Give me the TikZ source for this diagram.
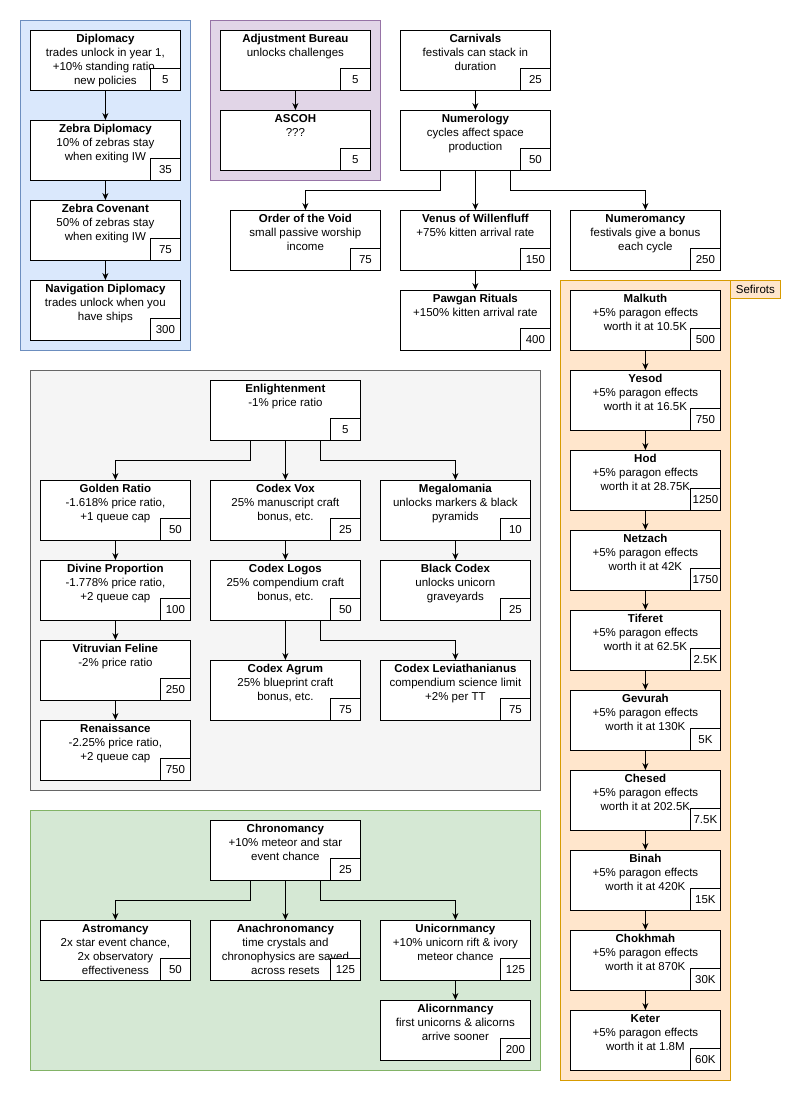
\documentclass[tikz,border=0pt]{standalone}
\usepackage{fontspec}
\setmainfont{Liberation Sans}
\usetikzlibrary{arrows.meta}
\definecolor{bF}{HTML}{DAE8FC}\definecolor{bS}{HTML}{6C8EBF}
\definecolor{pF}{HTML}{E1D5E7}\definecolor{pS}{HTML}{9673A6}
\definecolor{gF}{HTML}{F5F5F5}\definecolor{gS}{HTML}{666666}
\definecolor{nF}{HTML}{D5E8D4}\definecolor{nS}{HTML}{82B366}
\definecolor{oF}{HTML}{FFE6CC}\definecolor{oS}{HTML}{D79B00}
\newcommand\bx[6]{%
  \node[box] (#1) at (#2,#3) {};
  \node[txt] (#1t) at ([yshift=-2pt]#1.north) {\textbf{#4}\\#5};
  \node[cost] (#1c) at (#1.south east) {#6};}
\begin{document}
\begin{tikzpicture}[x=1pt,y=-1pt,
  box/.style={draw,fill=white,line width=0.8pt,minimum width=150pt,minimum height=60pt,anchor=north west,inner sep=0pt},
  txt/.style={anchor=north,align=center,font=\fontsize{11.5}{14}\selectfont,inner sep=2pt},
  cost/.style={draw,fill=white,line width=0.8pt,anchor=south east,minimum width=30pt,minimum height=22pt,inner sep=1pt,font=\fontsize{11.5}{14}\selectfont},
  grp/.style={line width=0.8pt},
  arr/.style={-{Stealth[length=7pt,width=6pt]},line width=0.8pt}]
\useasboundingbox (0,0) rectangle (801,1101);
\draw[grp,fill=bF,draw=bS] (20,20) rectangle (190,350);
\draw[grp,fill=pF,draw=pS] (210,20) rectangle (380,180);
\draw[grp,fill=gF,draw=gS] (30,370) rectangle (540,790);
\draw[grp,fill=nF,draw=nS] (30,810) rectangle (540,1070);
\draw[grp,fill=oF,draw=oS] (560,280) rectangle (730,1080);
\node[grp,draw=oS,fill=oF,anchor=north west,minimum width=50pt,minimum height=18pt,inner sep=0pt,font=\fontsize{11.5}{14}\selectfont] (sef) at (730,280) {Sefirots};

\bx{dip}{30}{30}{Diplomacy}{trades unlock in year 1,\\+10\% standing ratio,\\new policies}{5}
\bx{zd}{30}{120}{Zebra Diplomacy}{10\% of zebras stay\\when exiting IW}{35}
\bx{zc}{30}{200}{Zebra Covenant}{50\% of zebras stay\\when exiting IW}{75}
\bx{nd}{30}{280}{Navigation Diplomacy}{trades unlock when you\\have ships}{300}
\bx{ab}{220}{30}{Adjustment Bureau}{unlocks challenges}{5}
\bx{asc}{220}{110}{ASCOH}{???}{5}
\bx{car}{400}{30}{Carnivals}{festivals can stack in\\duration}{25}
\bx{num}{400}{110}{Numerology}{cycles affect space\\production}{50}
\bx{ov}{230}{210}{Order of the Void}{small passive worship\\income}{75}
\bx{ven}{400}{210}{Venus of Willenfluff}{+75\% kitten arrival rate}{150}
\bx{nmc}{570}{210}{Numeromancy}{festivals give a bonus\\each cycle}{250}
\bx{paw}{400}{290}{Pawgan Rituals}{+150\% kitten arrival rate}{400}

\bx{s1}{570}{290}{Malkuth}{+5\% paragon effects\\worth it at 10.5K}{500}
\bx{s2}{570}{370}{Yesod}{+5\% paragon effects\\worth it at 16.5K}{750}
\bx{s3}{570}{450}{Hod}{+5\% paragon effects\\worth it at 28.75K}{1250}
\bx{s4}{570}{530}{Netzach}{+5\% paragon effects\\worth it at 42K}{1750}
\bx{s5}{570}{610}{Tiferet}{+5\% paragon effects\\worth it at 62.5K}{2.5K}
\bx{s6}{570}{690}{Gevurah}{+5\% paragon effects\\worth it at 130K}{5K}
\bx{s7}{570}{770}{Chesed}{+5\% paragon effects\\worth it at 202.5K}{7.5K}
\bx{s8}{570}{850}{Binah}{+5\% paragon effects\\worth it at 420K}{15K}
\bx{s9}{570}{930}{Chokhmah}{+5\% paragon effects\\worth it at 870K}{30K}
\bx{s10}{570}{1010}{Keter}{+5\% paragon effects\\worth it at 1.8M}{60K}

\bx{enl}{210}{380}{Enlightenment}{-1\% price ratio}{5}
\bx{gr}{40}{480}{Golden Ratio}{-1.618\% price ratio,\\+1 queue cap}{50}
\bx{cv}{210}{480}{Codex Vox}{25\% manuscript craft\\bonus, etc.}{25}
\bx{meg}{380}{480}{Megalomania}{unlocks markers \& black\\pyramids}{10}
\bx{dp}{40}{560}{Divine Proportion}{-1.778\% price ratio,\\+2 queue cap}{100}
\bx{cl}{210}{560}{Codex Logos}{25\% compendium craft\\bonus, etc.}{50}
\bx{bc}{380}{560}{Black Codex}{unlocks unicorn\\graveyards}{25}
\bx{vf}{40}{640}{Vitruvian Feline}{-2\% price ratio}{250}
\bx{ca}{210}{660}{Codex Agrum}{25\% blueprint craft\\bonus, etc.}{75}
\bx{lev}{380}{660}{Codex Leviathanianus}{compendium science limit\\+2\% per TT}{75}
\bx{ren}{40}{720}{Renaissance}{-2.25\% price ratio,\\+2 queue cap}{750}

\bx{chr}{210}{820}{Chronomancy}{+10\% meteor and star\\event chance}{25}
\bx{ast}{40}{920}{Astromancy}{2x star event chance,\\2x observatory\\effectiveness}{50}
\bx{ana}{210}{920}{Anachronomancy}{time crystals and\\chronophysics are saved\\across resets}{125}
\bx{uni}{380}{920}{Unicornmancy}{+10\% unicorn rift \& ivory\\meteor chance}{125}
\bx{ali}{380}{1000}{Alicornmancy}{first unicorns \& alicorns\\arrive sooner}{200}

\foreach \a/\b in {dip/zd,zd/zc,zc/nd,ab/asc,car/num,ven/paw,
  s1/s2,s2/s3,s3/s4,s4/s5,s5/s6,s6/s7,s7/s8,s8/s9,s9/s10,
  gr/dp,dp/vf,vf/ren,cv/cl,meg/bc,cl/ca,uni/ali,num/ven,enl/cv,chr/ana}
  \draw[arr] (\a.south) -- (\b.north);
\draw[arr] ([xshift=-35pt]num.south) |- ++(0,20) -| (ov.north);
\draw[arr] ([xshift=35pt]num.south) |- ++(0,20) -| (nmc.north);
\draw[arr] ([xshift=-35pt]enl.south) |- ++(0,20) -| (gr.north);
\draw[arr] ([xshift=35pt]enl.south) |- ++(0,20) -| (meg.north);
\draw[arr] ([xshift=-35pt]chr.south) |- ++(0,20) -| (ast.north);
\draw[arr] ([xshift=35pt]chr.south) |- ++(0,20) -| (uni.north);
\draw[arr] ([xshift=35pt]cl.south) |- ++(0,20) -| (lev.north);
\end{tikzpicture}
\end{document}
